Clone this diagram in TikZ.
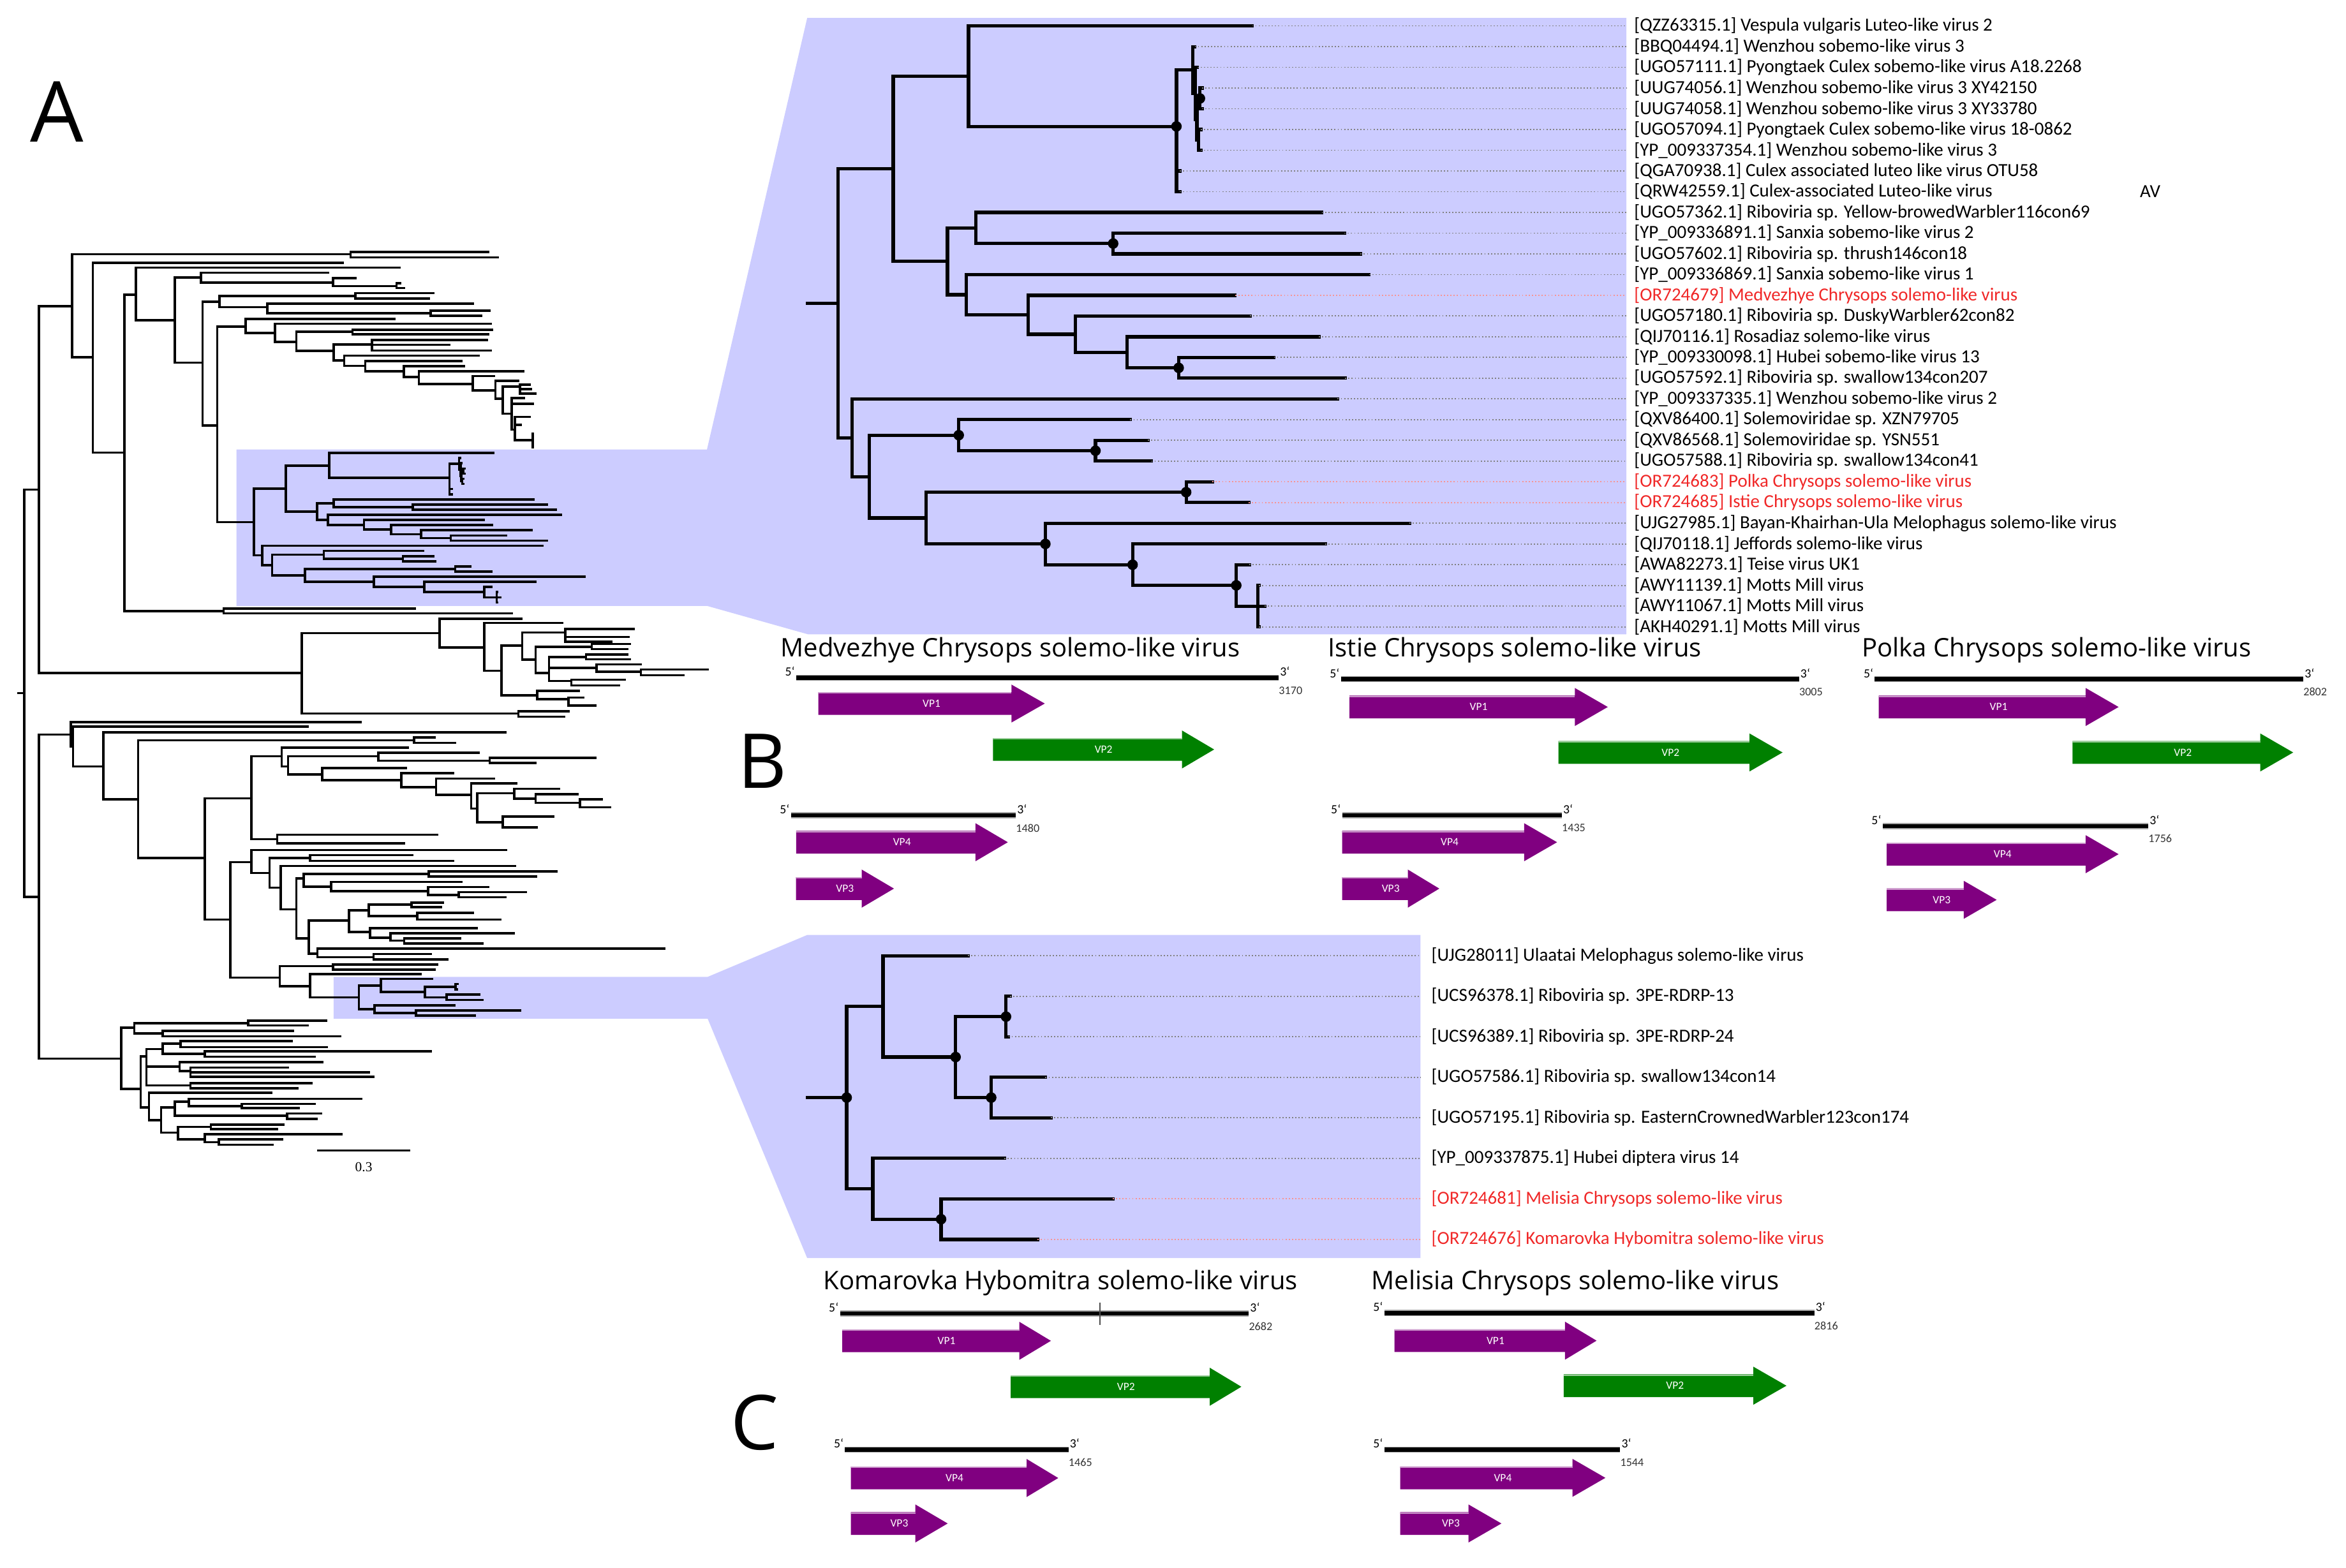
\documentclass[tikz,border=0pt]{standalone}
\usepackage{fontspec}
\setmainfont{Carlito}
\newfontfamily\headfont{Open Sans}
\newfontfamily\barfont{Liberation Serif}

\definecolor{zoomblue}{RGB}{204,204,255}
\definecolor{capsid}{RGB}{128,0,128}
\definecolor{capsidtwo}{RGB}{0,128,0}
\definecolor{novel}{RGB}{240,40,40}

% clade of panel B, in the coordinates of its zoom box
\newcommand\cladeB{%
  \foreach \xa/\y/\xb in {560.1/112.8/597.0, 560.1/292.6/569.6,
      597.0/50.9/647.3, 597.0/174.7/633.2, 647.3/17.3/836.9, 647.3/84.5/786.3,
      786.3/46.8/797.3, 786.3/114.3/788.6, 786.3/128.1/788.6,
      797.3/31.2/798.5, 797.3/62.3/798.9, 798.9/45.0/800.3, 798.9/79.7/800,
      800/65.8/802, 800/93.5/801, 802/58.9/803.5, 802/72.7/803.5,
      801/86.6/802.5, 801/100.4/802.5,
      633.2/152.4/652.2, 633.2/197/645.8, 652.2/142/883.4, 652.2/162.8/744,
      744/155.9/898.6, 744/169.7/909.3, 645.8/183.6/915, 645.8/210.4/687.3,
      687.3/197.4/825.5, 687.3/223.4/718.9, 718.9/211.3/835.4, 718.9/235.5/753.2,
      753.2/225.1/881.5, 753.2/245.9/787.8, 787.8/239/851.4, 787.8/252.8/899,
      569.6/266.7/894, 569.6/318.6/581, 581/290.9/640.8, 581/346.3/619.1,
      640.8/280.5/755.4, 640.8/301.3/732.2, 732.2/294.4/767.2, 732.2/308.2/769.5,
      619.1/329/792.8, 619.1/363.6/698.7, 792.8/322.1/810.3, 792.8/335.9/834.6,
      698.7/349.8/942, 698.7/377.5/757, 757/363.6/885.7, 757/391.3/826.3,
      826.3/377.5/835, 826.3/405.2/840.7,
      840.7/391.3/841.5, 840.7/405.2/845.3, 840.7/419/841.5}
    \draw (\xa,\y) -- (\xb,\y);
  \foreach \x/\ya/\yb in {560.1/112.8/292.6, 597.0/50.9/174.7, 647.3/17.3/84.5,
      786.3/46.8/128.1, 797.3/31.2/62.3, 798.9/45/79.7, 800/65.8/93.5,
      802/58.9/72.7, 801/86.6/100.4, 633.2/152.4/197, 652.2/142/162.8,
      744/155.9/169.7, 645.8/183.6/210.4, 687.3/197.4/223.4, 718.9/211.3/235.5,
      753.2/225.1/245.9, 787.8/239/252.8, 569.6/266.7/318.6, 581/290.9/346.3,
      640.8/280.5/301.3, 732.2/294.4/308.2, 619.1/329/363.6, 792.8/322.1/335.9,
      698.7/349.8/377.5, 757/363.6/391.3, 826.3/377.5/405.2, 840.7/391.3/419}
    \draw (\x,\ya) -- (\x,\yb);
}

% clade of panel C, in the coordinates of its zoom box
\newcommand\cladeC{%
  \foreach \xa/\y/\xb in {565.9/672.8/590.2, 565.9/794.6/583.4,
      590.2/638.9/647, 590.2/706.6/638.7, 638.7/679.6/672.4, 638.7/733.7/662.5,
      672.4/666.0/675, 672.4/693.1/674, 662.5/720.1/698.7, 662.5/747.2/702.3,
      583.4/774.3/671.3, 583.4/815/629, 629/801.4/743.7, 629/828.5/693.5}
    \draw (\xa,\y) -- (\xb,\y);
  \foreach \x/\ya/\yb in {565.9/672.8/794.6, 590.2/638.9/706.6,
      638.7/679.6/733.7, 672.4/666/693.1, 662.5/720.1/747.2,
      583.4/774.3/815, 629/801.4/828.5}
    \draw (\x,\ya) -- (\x,\yb);
}

% segment line: name, start, end, y, length
\newcommand\genome[5]{%
  \draw[line width=2.9pt,black!35] (#2,#4) -- (#3,#4);
  \draw[line width=2pt] (#2,#4) -- (#3,#4);
  \node[endlab,anchor=south east] (#1five) at (#2,#4) {5`};
  \node[endlab,anchor=south west] (#1three) at (#3,#4) {3`};
  \node[lenlab] (#1len) at ({#3+8},{#4+8.5}) {#5};
}

% ORF arrow: name, start, head, tip, y, colour, label
\newcommand\orf[7]{%
  \fill[#6] (#2,{#5-7.6}) -- (#3,{#5-7.6}) -- (#3,{#5-12.7}) -- (#4,#5)
    -- (#3,{#5+12.7}) -- (#3,{#5+7.6}) -- (#2,{#5+7.6}) -- cycle;
  \draw[#6!40!white,line width=0.6pt] (#2,{#5-7.1}) -- (#3,{#5-7.1});
  \node[orflab] (#1) at ({(#2+#4)/2},#5) {#7};
}

\begin{document}
\begin{tikzpicture}
  [x=0.025cm,y=-0.025cm,
   branch/.style={line width=1.1pt,line cap=rect},
   zbranch/.style={line width=1.6pt,line cap=rect},
   support/.style={circle,fill=black,inner sep=0pt,minimum size=5pt},
   leader/.style={densely dotted,line width=0.55pt},
   taxon/.style={anchor=west,inner sep=0pt,font=\fontsize{8.8}{9}\selectfont},
   title/.style={anchor=base west,inner sep=0pt,font=\headfont\fontsize{12.15}{13}\selectfont},
   panel/.style={anchor=base west,inner sep=0pt,font=\headfont\fontsize{36}{40}\selectfont},
   endlab/.style={inner sep=0.5pt,font=\fontsize{6}{6}\selectfont},
   lenlab/.style={inner sep=0pt,font=\fontsize{5.5}{6}\selectfont,text=black!80},
   orflab/.style={inner sep=0pt,text=white,font=\fontsize{5.3}{5}\selectfont}]

  \useasboundingbox (0,0) rectangle (1568,1048);

  % zoom areas
  \fill[zoomblue] (158,300.5) -- (472.5,300.5) -- (539.5,12) -- (1087,12)
    -- (1087,424) -- (540,424) -- (472.5,405) -- (158,405) -- cycle;
  \fill[zoomblue] (223,653) -- (473,653) -- (539.5,625) -- (949.4,625)
    -- (949.4,841) -- (539.5,841) -- (473,681) -- (223,681) -- cycle;

  % whole tree
  \begin{scope}[branch]
  \foreach \xa/\y/\xb in {12.5/463.3/16.3, 16.3/327.3/26.1, 16.3/599.5/26.1,
      26.1/204.7/48.3, 26.1/449.9/201.7, 48.3/169.9/234.3, 48.3/238.8/62,
      234.3/168.5/326.3, 234.3/172/332.8, 62/175.6/229, 62/302.5/83.2,
      83.2/196.9/90.7, 83.2/408.4/149.4, 149.4/406.8/277.4, 149.4/410/342,
      90.7/178.9/266.9, 90.7/214/116.8, 116.8/185.5/134.4, 116.8/242.4/135.4,
      134.4/182.3/219.3, 134.4/188.8/222.5, 222.5/186/237.6, 222.5/191.2/265,
      265/189.4/267.6, 265/192.6/270, 135.4/201.6/146.8, 135.4/284.3/145.2,
      146.8/197.9/237.6, 146.8/205.4/178.8, 237.6/195.9/289.8, 237.6/199.5/286.5,
      178.8/202.9/315.9, 178.8/209.3/287.8, 287.8/207.6/327, 287.8/211/321.4,
      145.2/218.2/164.1, 145.2/349/169.7,
      164.1/213.3/263.7, 164.1/222.5/183.7, 183.7/216.4/327.9, 183.7/228.6/198,
      198/221.8/235.6, 198/234.6/222.9, 235.6/220.4/329, 235.6/223.5/326.3,
      222.9/230.3/248.6, 222.9/241/230, 248.6/227.2/325.3, 248.6/230.5/300.2,
      248.6/234.3/327.9, 230/237.7/319.8, 230/244.5/244.1, 244.1/241.4/308.4,
      244.1/248.1/269.9, 269.9/244.8/310, 269.9/251.9/280, 280/248.1/349.8,
      280/256.6/315.9, 315.9/251.4/330.2, 315.9/260.9/331.2, 331.2/254.5/346.5,
      331.2/266.6/336.1, 336.1/258.5/347.5, 336.1/276.5/342, 347.5/257/354,
      347.5/260/355, 347.5/263/358, 342/266/350, 342/270/356, 342/287.2/344.2,
      344.2/278.7/354, 344.2/284/348, 344.2/294.3/356,
      201.7/423.2/293.7, 201.7/477/346.5, 346.5/475.5/380.1, 346.5/479.1/376.9,
      293.7/413.6/348.5, 293.7/432.7/323.7, 323.7/416.4/375.9, 323.7/448.4/335.1,
      335.1/431.6/349.1, 335.1/464.8/359, 349.1/422.8/377.9, 349.1/441/358,
      377.9/420.5/423.5, 377.9/425.8/420.3, 377.9/429/408.5, 358/432.4/395.5,
      358/449.9/367, 395.5/430.5/420.9, 395.5/433.9/419.3, 367/439.2/391.6,
      367/446.5/398.7, 367/455.2/381.8, 391.6/437.4/419.3, 391.6/440.7/420.9,
      398.7/444.2/428.4, 398.7/449.1/428.4, 428.4/447.6/473.1, 428.4/451.4/456.8,
      381.8/454.4/417.7, 381.8/458.2/413.7, 359/461.8/386.7, 359/467.4/380,
      380/466.3/390, 380/471.5/398,
      26.1/491/47.3, 26.1/707.6/80.9, 47.3/482.6/240.8, 47.3/499/48.9,
      48.9/485.7/205.6, 48.9/512.3/69.2, 69.2/489.5/337.7, 69.2/534.4/92.3,
      92.3/494.8/276.7, 92.3/573.6/137, 276.7/493/290.4, 276.7/496.6/304.1,
      137/533.6/168, 137/614.7/154, 168/505.5/188.3, 168/561/185.3,
      185.3/558/292, 185.3/563.8/270.2, 188.3/499.8/272.5, 188.3/512.3/192.5,
      192.5/505.5/252.9, 192.5/517.6/215.4, 252.9/503.2/319.8, 252.9/508.5/327.3,
      327.3/506.7/398.1, 327.3/510/358, 215.4/513.5/271.5, 215.4/521.4/268.2,
      268.2/516.9/302.8, 268.2/526.3/291.4, 291.4/520.4/330.2, 291.4/531.4/314.9,
      314.9/523.7/344.9, 314.9/540.5/319.1, 319.1/530.3/343.6, 319.1/549.6/336.1,
      343.6/527.2/373.6, 343.6/533.9/358, 358/530.9/386, 358/536.7/387.6,
      387.6/534.4/402.3, 387.6/539.7/407.9, 336.1/545.8/369.7, 336.1/553.1/358.9,
      154/576.3/168, 154/653.5/187, 168/568.2/338.4, 168/583.5/180.1,
      180.1/573.6/207.2, 180.1/593.4/187.6, 207.2/571.7/275.7, 207.2/575.4/302.8,
      187.6/578.9/344.2, 187.6/607.8/198.1, 198.1/587.3/203, 198.1/627.2/206.5,
      203/584.2/286.5, 203/592.6/221.2, 286.5/582.4/372, 286.5/586/358.3,
      221.2/589.6/308.4, 221.2/595.6/286.2, 286.2/593/326.3, 286.2/598.2/306.7,
      306.7/596.4/351.4, 306.7/599.8/337.7, 206.5/615.4/233.3, 206.5/637.5/212.1,
      233.3/608.6/246.4, 233.3/623.1/247.3, 246.4/604.8/275.1, 246.4/612.4/279,
      275.1/603.3/296, 275.1/606.3/294.7, 279/610.1/315.9, 279/614.7/334.5,
      247.3/620.5/318.8, 247.3/626.9/261, 261/623.8/343.3, 261/628.7/270.2,
      270.2/627.2/307.4, 270.2/630.7/322.4, 212.1/634.2/443.8, 212.1/639.8/249.6,
      249.6/637.8/288.1, 249.6/641.3/299.2, 187/645.9/222.5, 187/659.2/207.2,
      222.5/644.7/292, 222.5/648.2/290.4, 207.2/651.2/281.3, 207.2/666.7/239.8,
      80.9/687/89.7, 80.9/727.8/94, 89.7/684/165.8, 89.7/690.8/108.7,
      165.8/682.2/218, 165.8/685.5/205.6, 108.7/689/195.8, 108.7/692.7/227.4,
      94/706.1/97.9, 94/740.3/99.5, 97.9/701.2/108.7, 97.9/712.9/120.1,
      97.9/725.6/127.3, 108.7/697.7/120.7, 108.7/704.5/137, 120.7/695.9/195.1,
      120.7/700/218.6, 137/702.7/287.8, 137/706.4/210.5, 120.1/709.9/215.4,
      120.1/716/127.3, 127.3/713.7/192.5, 127.3/716.7/246.4, 127.3/719.8/249.6,
      127.3/724/208.2, 127.3/727.4/199, 99.5/730.4/181.1, 99.5/748.7/107.7,
      107.7/740.3/116.8, 107.7/757.1/119.1, 116.8/736.5/126.3, 116.8/745.7/191.9,
      126.3/734.5/241.5, 126.3/739.4/161.5, 161.5/738/210.5, 161.5/740.8/199.7,
      191.9/744.4/214.7, 191.9/748/211.4, 119.1/753.3/141, 119.1/761.7/137,
      141/751.8/189.3, 141/754.8/185.3, 137/758.3/228.4, 137/763.5/146.2,
      146.2/761.7/188.6, 146.2/765.2/182.1}
    \draw (\xa,\y) -- (\xb,\y);
  \foreach \x/\ya/\yb in {16.3/327.3/599.5, 26.1/204.7/449.9, 48.3/169.9/238.8,
      234.3/168.5/172, 62/175.6/302.5, 83.2/196.9/408.4, 149.4/406.8/410,
      90.7/178.9/214, 116.8/185.5/242.4, 134.4/182.3/188.8, 222.5/186/191.2,
      265/189.4/192.6, 135.4/201.6/284.3, 146.8/197.9/205.4, 237.6/195.9/199.5,
      178.8/202.9/209.3, 287.8/207.6/211, 145.2/218.2/349, 164.1/213.3/222.5,
      183.7/216.4/228.6, 198/221.8/234.6, 235.6/220.4/223.5, 222.9/230.3/241,
      248.6/227.2/234.3, 230/237.7/244.5, 244.1/241.4/248.1, 269.9/244.8/251.9,
      280/248.1/256.6, 315.9/251.4/260.9, 331.2/254.5/266.6, 336.1/258.5/276.5,
      347.5/257/263, 342/266/287.2, 344.2/278.7/294.3, 356/290/299,
      201.7/423.2/477, 346.5/475.5/479.1, 293.7/413.6/432.7, 323.7/416.4/448.4,
      335.1/431.6/464.8, 349.1/422.8/441, 377.9/420.5/429, 358/432.4/449.9,
      395.5/430.5/433.9, 367/439.2/455.2, 391.6/437.4/440.7, 398.7/444.2/449.1,
      428.4/447.6/451.4, 381.8/454.4/458.2, 359/461.8/467.4, 380/466.3/471.5,
      26.1/491/707.6, 47.3/482.6/499, 48.9/485.7/512.3, 69.2/489.5/534.4,
      92.3/494.8/573.6, 276.7/493/496.6, 137/533.6/614.7, 168/505.5/561,
      185.3/558/563.8, 188.3/499.8/512.3, 192.5/505.5/517.6, 252.9/503.2/508.5,
      327.3/506.7/510, 215.4/513.5/521.4, 268.2/516.9/526.3, 291.4/520.4/531.4,
      314.9/523.7/540.5, 319.1/530.3/549.6, 343.6/527.2/533.9, 358/530.9/536.7,
      387.6/534.4/539.7, 336.1/545.8/553.1, 154/576.3/653.5, 168/568.2/583.5,
      180.1/573.6/593.4, 207.2/571.7/575.4, 187.6/578.9/607.8, 198.1/587.3/627.2,
      203/584.2/592.6, 286.5/582.4/586, 221.2/589.6/595.6, 286.2/593/598.2,
      306.7/596.4/599.8, 206.5/615.4/637.5, 233.3/608.6/623.1, 246.4/604.8/612.4,
      275.1/603.3/606.3, 279/610.1/614.7, 247.3/620.5/626.9, 261/623.8/628.7,
      270.2/627.2/630.7, 212.1/634.2/639.8, 249.6/637.8/641.3, 187/645.9/659.2,
      222.5/644.7/648.2, 207.2/651.2/666.7, 80.9/687/727.8, 89.7/684/690.8,
      165.8/682.2/685.5, 108.7/689/692.7, 94/706.1/740.3, 97.9/701.2/725.6,
      108.7/697.7/704.5, 120.7/695.9/700, 137/702.7/706.4, 120.1/709.9/716,
      127.3/713.7/719.8, 127.3/724/727.4, 99.5/730.4/748.7, 107.7/740.3/757.1,
      116.8/736.5/745.7, 126.3/734.5/739.4, 161.5/738/740.8, 191.9/744.4/748,
      119.1/753.3/761.7, 141/751.8/754.8, 137/758.3/763.5, 146.2/761.7/765.2}
    \draw (\x,\ya) -- (\x,\yb);
  \end{scope}
  \begin{scope}[branch,shift={(-154.0,298.5)},xscale=0.578,yscale=0.2487]
    \cladeB
  \end{scope}
  \begin{scope}[branch,shift={(-103.1,571.05)},xscale=0.606,yscale=0.1303]
    \cladeC
  \end{scope}
  \draw[line width=1.1pt] (212.1,769) -- (274.1,769);
  \node[inner sep=0pt,font=\barfont\fontsize{6.5}{7}\selectfont] (bar) at (243.1,780) {0.3};

  % zoomed clade B
  \begin{scope}[zbranch]
    \draw (539.9,202.7) -- (560.1,202.7);
    \cladeB
  \end{scope}
  \foreach \x/\y in {786.3/84.5, 802/65.8, 744/162.8, 787.8/245.9, 640.8/290.9,
      732.2/301.3, 792.8/329, 698.7/363.6, 757/377.5, 826.3/391.3}
    \node[support] at (\x,\y) {};
  \foreach \i/\tip/\c/\lab in {
      1/836.9/black/{[QZZ63315.1] Vespula vulgaris Luteo-like virus 2},
      2/798.5/black/{[BBQ04494.1] Wenzhou sobemo-like virus 3},
      3/800.3/black/{[UGO57111.1] Pyongtaek Culex sobemo-like virus A18.2268},
      4/803.5/black/{[UUG74056.1] Wenzhou sobemo-like virus 3 XY42150},
      5/803.5/black/{[UUG74058.1] Wenzhou sobemo-like virus 3 XY33780},
      6/802.5/black/{[UGO57094.1] Pyongtaek Culex sobemo-like virus 18-0862},
      7/802.5/black/{[YP\_009337354.1] Wenzhou sobemo-like virus 3},
      8/788.6/black/{[QGA70938.1] Culex associated luteo like virus OTU58},
      9/788.6/black/{[QRW42559.1] Culex-associated Luteo-like virus},
      10/883.4/black/{[UGO57362.1] Riboviria sp. Yellow-browedWarbler116con69},
      11/898.6/black/{[YP\_009336891.1] Sanxia sobemo-like virus 2},
      12/909.3/black/{[UGO57602.1] Riboviria sp. thrush146con18},
      13/915.0/black/{[YP\_009336869.1] Sanxia sobemo-like virus 1},
      14/825.5/novel/{[OR724679] Medvezhye Chrysops solemo-like virus},
      15/835.4/black/{[UGO57180.1] Riboviria sp. DuskyWarbler62con82},
      16/881.5/black/{[QIJ70116.1] Rosadiaz solemo-like virus},
      17/851.4/black/{[YP\_009330098.1] Hubei sobemo-like virus 13},
      18/899.0/black/{[UGO57592.1] Riboviria sp. swallow134con207},
      19/894.0/black/{[YP\_009337335.1] Wenzhou sobemo-like virus 2},
      20/755.4/black/{[QXV86400.1] Solemoviridae sp. XZN79705},
      21/767.2/black/{[QXV86568.1] Solemoviridae sp. YSN551},
      22/769.5/black/{[UGO57588.1] Riboviria sp. swallow134con41},
      23/810.3/novel/{[OR724683] Polka Chrysops solemo-like virus},
      24/834.6/novel/{[OR724685] Istie Chrysops solemo-like virus},
      25/942.0/black/{[UJG27985.1] Bayan-Khairhan-Ula Melophagus solemo-like virus},
      26/885.7/black/{[QIJ70118.1] Jeffords solemo-like virus},
      27/835.0/black/{[AWA82273.1] Teise virus UK1},
      28/841.5/black/{[AWY11139.1] Motts Mill virus},
      29/845.3/black/{[AWY11067.1] Motts Mill virus},
      30/841.5/black/{[AKH40291.1] Motts Mill virus}} {
    \pgfmathsetmacro\yy{17.3+(\i-1)*13.853}
    \node[taxon,text=\c] (tb\i) at (1092,\yy) {\lab};
    \draw[leader,draw=\c!50,shorten >=3.6pt] (\tip,\yy) -- (tb\i.west);
  }
  \node[taxon] (av) at (1430,128.1) {AV};

  % zoomed clade C
  \begin{scope}[zbranch]
    \draw (539.5,733.7) -- (565.9,733.7);
    \cladeC
  \end{scope}
  \foreach \x/\y in {565.9/733.7, 638.7/706.6, 672.4/679.6, 662.5/733.7, 629/815}
    \node[support] at (\x,\y) {};
  \foreach \i/\tip/\c/\lab in {
      1/647/black/{[UJG28011] Ulaatai Melophagus solemo-like virus},
      2/675/black/{[UCS96378.1] Riboviria sp. 3PE-RDRP-13},
      3/674/black/{[UCS96389.1] Riboviria sp. 3PE-RDRP-24},
      4/698.7/black/{[UGO57586.1] Riboviria sp. swallow134con14},
      5/702.3/black/{[UGO57195.1] Riboviria sp. EasternCrownedWarbler123con174},
      6/671.3/black/{[YP\_009337875.1] Hubei diptera virus 14},
      7/743.7/novel/{[OR724681] Melisia Chrysops solemo-like virus},
      8/693.5/novel/{[OR724676] Komarovka Hybomitra solemo-like virus}} {
    \pgfmathsetmacro\yy{638.9+(\i-1)*27.08}
    \node[taxon,text=\c] (tc\i) at (956.5,\yy) {\lab};
    \draw[leader,draw=\c!50,shorten >=5pt] (\tip,\yy) -- (tc\i.west);
  }

  % panel letters
  \node[panel,font=\headfont\fontsize{40}{44}\selectfont] (pa) at (20,95) {A};
  \node[panel] (pb) at (493,527) {B};
  \node[panel] (pc) at (488,969) {C};

  % genomes, panel B
  \node[title] (tmed) at (521.5,439.2) {Medvezhye Chrysops solemo-like virus};
  \node[title] (tist) at (887.4,439.2) {Istie Chrysops solemo-like virus};
  \node[title] (tpol) at (1244.2,439.2) {Polka Chrysops solemo-like virus};
  \genome{meda}{532.1}{854.6}{453}{3170}
  \orf{medvpa}{547}{676}{698.3}{470.3}{capsid}{VP1}
  \orf{medvpb}{663.7}{790}{811.5}{501}{capsidtwo}{VP2}
  \genome{medb}{528.6}{678.9}{545}{1480}
  \orf{medvpd}{532.1}{652}{673.6}{563}{capsid}{VP4}
  \orf{medvpc}{532}{576}{597.5}{594}{capsid}{VP3}
  \genome{ista}{896.2}{1202.4}{454}{3005}
  \orf{istvpa}{902}{1052.6}{1074.6}{472.6}{capsid}{VP1}
  \orf{istvpb}{1041.6}{1169.3}{1191.4}{503}{capsidtwo}{VP2}
  \genome{istb}{897}{1043.8}{545}{1435}
  \orf{istvpd}{897}{1018.7}{1040.7}{563}{capsid}{VP4}
  \orf{istvpc}{897}{941}{962}{594}{capsid}{VP3}
  \genome{pola}{1253}{1539.4}{454}{2802}
  \orf{polvpa}{1255.7}{1394}{1416}{472.6}{capsid}{VP1}
  \orf{polvpb}{1385.2}{1510.7}{1532.7}{503}{capsidtwo}{VP2}
  \genome{polb}{1258.3}{1435.8}{552.2}{1756}
  \orf{polvpd}{1261}{1394}{1416}{571}{capsid}{VP4}
  \orf{polvpc}{1261}{1312.5}{1334.5}{601.5}{capsid}{VP3}

  % genomes, panel C
  \node[title] (tkom) at (550.1,862.1) {Komarovka Hybomitra solemo-like virus};
  \node[title] (tmel) at (916.4,862.1) {Melisia Chrysops solemo-like virus};
  \genome{koma}{561.4}{834.6}{878}{2682}
  \draw[line width=0.5pt,black!70] (735.2,870.6) -- (735.2,885.5);
  \orf{komvpa}{562.9}{681.3}{702.4}{896.3}{capsid}{VP1}
  \orf{komvpb}{675.5}{808.6}{829.7}{927}{capsidtwo}{VP2}
  \genome{komb}{564.8}{714.1}{969}{1465}
  \orf{komvpd}{568.7}{686.2}{707.3}{988}{capsid}{VP4}
  \orf{komvpc}{568.7}{611.8}{633.4}{1018.4}{capsid}{VP3}
  \genome{mela}{925.2}{1212.6}{877.7}{2816}
  \orf{melvpa}{932}{1046}{1067.1}{896.2}{capsid}{VP1}
  \orf{melvpb}{1045.1}{1171.9}{1194}{926.3}{capsidtwo}{VP2}
  \genome{melb}{925.2}{1082.8}{969}{1544}
  \orf{melvpd}{935.9}{1051}{1073}{987.9}{capsid}{VP4}
  \orf{melvpc}{935.9}{981.5}{1003.5}{1018.4}{capsid}{VP3}
\end{tikzpicture}
\end{document}
